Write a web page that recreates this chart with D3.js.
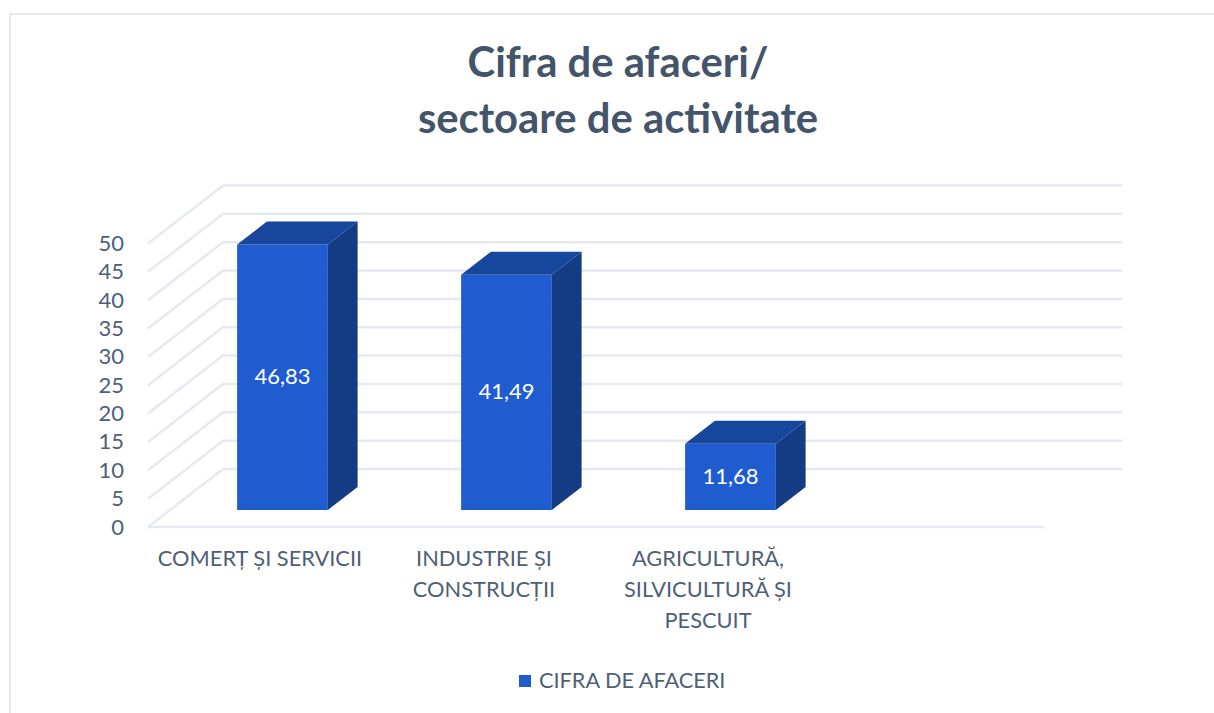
<!DOCTYPE html>
<html>
<head>
<meta charset="utf-8">
<script src="https://cdn.jsdelivr.net/npm/d3@7"></script>
<style>
  html, body { margin: 0; padding: 0; background: #fff; }
  svg { display: block; }
  text { font-family: Lato, "Open Sans", sans-serif; fill: #4f5f76; }
</style>
</head>
<body>
<div id="chart"></div>
<script>
// values, the fourth slot on the axis is empty in the original
const categories = ['COMERȚ ȘI SERVICII', 'INDUSTRIE ȘI CONSTRUCȚII', 'AGRICULTURĂ, SILVICULTURĂ ȘI PESCUIT', ''];
const categoryLines = [['COMERȚ ȘI SERVICII'], ['INDUSTRIE ȘI', 'CONSTRUCȚII'], ['AGRICULTURĂ,', 'SILVICULTURĂ ȘI', 'PESCUIT'], []];
const values = [46.83, 41.49, 11.68];
const valueLabels = ['46,83', '41,49', '11,68'];
const seriesName = 'CIFRA DE AFACERI';
const titleLines = ['Cifra de afaceri/', 'sectoare de activitate'];
const yTicks = d3.range(0, 51, 5);

const width = 1214, height = 713;
const wallDx = 75, wallDy = 58;   // depth of the 3d box
const barFront = 0.293, barBack = 0.69; // where the bars sit inside that depth

const x = d3.scaleBand().domain(categories).range([148, 1044]);
const y = d3.scaleLinear().domain([0, 50]).range([527, 243.5]);
const barWidth = x.bandwidth() * 0.405;

const svg = d3.select('#chart').append('svg')
    .attr('width', width)
    .attr('height', height);

// frame of the pasted chart, only top and left show
svg.append('path')
    .attr('d', d3.line()([[10, height], [10, 14], [width, 14]]))
    .attr('fill', 'none')
    .attr('stroke', '#e6e9f0')
    .attr('stroke-width', 2);

// title
svg.append('g').selectAll('text')
    .data(titleLines)
    .enter()
    .append('text')
    .attr('x', 618)
    .attr('y', (d, i) => 77 + i * 56)
    .attr('text-anchor', 'middle')
    .style('font-size', '41.8px')
    .style('font-weight', 700)
    .style('fill', '#44546a')
    .text(d => d);

// walls and gridlines
const grid = svg.append('g')
    .attr('fill', 'none')
    .attr('stroke', '#e6e9f0')
    .attr('stroke-width', 2.5);

grid.selectAll('path')
    .data(yTicks)
    .enter()
    .append('path')
    .attr('d', d => d3.line()([
        [x.range()[0], y(d)],
        [x.range()[0] + wallDx, y(d) - wallDy],
        [x.range()[1] + wallDx + 3, y(d) - wallDy]
    ]));

grid.append('line')
    .attr('x1', x.range()[0])
    .attr('x2', x.range()[1])
    .attr('y1', y(0))
    .attr('y2', y(0));

// y axis
const yAxis = svg.append('g')
    .attr('transform', 'translate(133,0)')
    .call(d3.axisLeft(y).tickValues(yTicks).tickSize(0).tickPadding(9));
yAxis.select('.domain').remove();
yAxis.selectAll('text')
    .style('font-family', 'Lato')
    .style('font-size', '22px');

// bars
const bars = svg.append('g').selectAll('g')
    .data(values)
    .enter()
    .append('g');

const px = (d, i) => x(categories[i]) + x.bandwidth() / 2 - barWidth / 2 + wallDx * barFront + 0.5;
const base = y(0) - wallDy * barFront;
const offX = wallDx * (barBack - barFront);
const offY = wallDy * (barBack - barFront);
const barH = d => y(0) - y(d);

bars.append('rect')
    .attr('x', px)
    .attr('y', d => base - barH(d))
    .attr('width', barWidth)
    .attr('height', d => barH(d))
    .attr('fill', '#1f5ccf');

bars.append('path')
    .attr('fill', '#17479c')
    .attr('d', (d, i) => {
        const l = px(d, i), t = base - barH(d);
        return d3.line()([[l, t], [l + offX, t - offY], [l + barWidth + offX, t - offY], [l + barWidth, t]]) + 'Z';
    });

bars.append('path')
    .attr('fill', '#143c85')
    .attr('d', (d, i) => {
        const r = px(d, i) + barWidth, t = base - barH(d);
        return d3.line()([[r, t], [r + offX, t - offY], [r + offX, base - offY], [r, base]]) + 'Z';
    });

bars.append('text')
    .attr('x', (d, i) => px(d, i) + barWidth / 2)
    .attr('y', d => base - barH(d) / 2 + 7)
    .attr('text-anchor', 'middle')
    .style('font-size', '22px')
    .style('fill', '#fff')
    .text((d, i) => valueLabels[i]);

// category labels
const catGroups = svg.append('g').selectAll('text')
    .data(categoryLines)
    .enter()
    .append('text')
    .attr('text-anchor', 'middle')
    .style('font-size', '21.8px');

catGroups.selectAll('tspan')
    .data((d, i) => d.map(t => ({t: t, cat: categories[i]})))
    .enter()
    .append('tspan')
    .attr('x', d => x(d.cat) + x.bandwidth() / 2)
    .attr('y', (d, i) => 566 + i * 31)
    .text(d => d.t);

// legend
svg.append('rect')
    .attr('x', 519)
    .attr('y', 675)
    .attr('width', 12)
    .attr('height', 12)
    .attr('fill', '#1f5ccf');

svg.append('text')
    .attr('x', 539)
    .attr('y', 688)
    .style('font-size', '21.7px')
    .text(seriesName);
</script>
</body>
</html>
